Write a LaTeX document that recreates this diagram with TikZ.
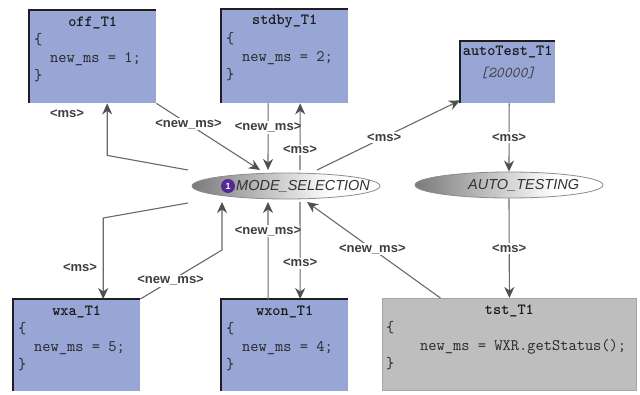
\documentclass[tikz,border=0pt]{standalone}
\usepackage{fontspec}
\setmainfont{Liberation Sans}
\usetikzlibrary{arrows.meta,calc,shapes.geometric}

\definecolor{boxblue}{RGB}{151,166,212}
\definecolor{boxgray}{RGB}{190,190,190}
\definecolor{linegray}{RGB}{105,105,105}
\definecolor{tipgray}{RGB}{80,80,80}
\definecolor{labgray}{RGB}{62,62,62}
\definecolor{badgepurple}{RGB}{82,42,150}
\pgfdeclarehorizontalshading{ovalshade}{100bp}{color(0bp)=(black!52); color(25bp)=(black!52); color(45bp)=(black!24); color(62bp)=(white); color(100bp)=(white)}

\begin{document}
\begin{tikzpicture}[x=1pt,y=-1pt,
  statebox/.style={rectangle, inner sep=0pt, anchor=north west, fill=boxblue},
  taskbox/.style={rectangle, inner sep=0pt, anchor=north west, fill=boxgray, draw=black!35, line width=0.8pt},
  edgeline/.style={draw=black!88, line width=2.2pt},
  boxtitle/.style={inner sep=0pt, font=\ttfamily\bfseries\fontsize{15.5}{15.5}\selectfont, text=black!90},
  codetext/.style={inner sep=0pt, anchor=north west, align=left, text=black!85,
    font=\ttfamily\fontsize{16}{18}\selectfont},
  oval/.style={ellipse, minimum width=188pt, minimum height=26pt, inner sep=0pt,
    shading=ovalshade, draw=black!45, line width=0.8pt},
  ovaltext/.style={anchor=west, inner sep=0pt, text=black!80,
    font=\itshape\fontsize{14.5}{14.5}\selectfont},
  conn/.style={draw=linegray, line width=1.1pt,
    -{Stealth[length=11pt, width=10pt, inset=3.5pt, color=tipgray]}},
  lab/.style={fill=white, inner sep=1.5pt, text=labgray,
    font=\bfseries\fontsize{13}{13}\selectfont}]

\useasboundingbox (0,0) rectangle (640,394);
\fill[white] (0,0) rectangle (640,394);

% ---- state boxes ----
\node[statebox, minimum width=127pt, minimum height=93pt] (off) at (29,10) {};
\node[statebox, minimum width=127pt, minimum height=94pt] (stdby) at (221,9) {};
\node[statebox, minimum width=95pt, minimum height=62pt] (autot) at (460,41) {};
\node[statebox, minimum width=127pt, minimum height=92pt] (wxa) at (13,299) {};
\node[statebox, minimum width=127pt, minimum height=92pt] (wxon) at (221,299) {};
\node[taskbox, minimum width=254pt, minimum height=92pt] (tst) at (382,298) {};

\foreach \b in {off,stdby,autot,wxa,wxon}
  \draw[edgeline] (\b.south west) -- (\b.north west) -- (\b.north east);

% ---- box contents ----
\node[boxtitle] (offT) at ($(off.north)+(0,12.5)$) {off\_T1};
\node[codetext] (offC) at ($(off.north west)+(5,23)$) {\{\\\hspace*{16pt}new\_ms = 1;\\\}};

\node[boxtitle] (stdbyT) at ($(stdby.north)+(0,12.5)$) {stdby\_T1};
\node[codetext] (stdbyC) at ($(stdby.north west)+(5,23)$) {\{\\\hspace*{16pt}new\_ms = 2;\\\}};

\node[boxtitle] (autotT) at ($(autot.north)+(0,11)$) {autoTest\_T1};
\node[inner sep=0pt, text=black!75, font=\ttfamily\itshape\fontsize{15}{15}\selectfont]
  (autotP) at ($(autot.north)+(0,32)$) {[20000]};

\node[boxtitle] (wxaT) at ($(wxa.north)+(0,12.5)$) {wxa\_T1};
\node[codetext] (wxaC) at ($(wxa.north west)+(5,23)$) {\{\\\hspace*{16pt}new\_ms = 5;\\\}};

\node[boxtitle] (wxonT) at ($(wxon.north)+(0,12.5)$) {wxon\_T1};
\node[codetext] (wxonC) at ($(wxon.north west)+(5,23)$) {\{\\\hspace*{16pt}new\_ms = 4;\\\}};

\node[boxtitle] (tstT) at ($(tst.north)+(0,12.5)$) {tst\_T1};
\node[codetext] (tstC) at ($(tst.north west)+(4,23)$) {\{\\\hspace*{34pt}new\_ms = WXR.getStatus();\\\}};

% ---- mode ovals ----
\node[oval] (ms) at (286,186) {};
\node[circle, fill=badgepurple, minimum size=14pt, inner sep=0pt, text=white,
  font=\bfseries\fontsize{9}{9}\selectfont] (badge) at (228,186) {1};
\node[ovaltext] (msT) at (236,186) {MODE\_SELECTION};

\node[oval] (autotesting) at (509,185) {};
\node[ovaltext] (autotestingT) at (468,185) {AUTO\_TESTING};

% ---- transitions ----
% MODE_SELECTION <-> off_T1
\draw[conn] ($(ms.center)+(-98,-16)$) -- ($(off.south)+(14.5,52)$) -- ($(off.south)+(14.5,0)$);
\node[lab] (l1) at (67,114) {<ms>};
\draw[conn] (off.south east) -- node[lab, pos=0.31] (l2) {<new\_ms>} ($(ms.center)+(-26,-16)$);

% MODE_SELECTION <-> stdby_T1
\draw[conn] ($(stdby.south)+(-16.5,0)$) -- node[lab, pos=0.36] (l3) {<new\_ms>} ($(ms.center)+(-18,-16)$);
\draw[conn] ($(ms.center)+(14,-16)$) -- node[lab, pos=0.3] (l4) {<ms>} ($(stdby.south)+(15.5,0)$);

% MODE_SELECTION -> autoTest_T1 -> AUTO_TESTING -> tst_T1 -> MODE_SELECTION
\draw[conn] ($(ms.center)+(31,-16)$) -- node[lab, pos=0.47] (l5) {<ms>} ($(autot.south west)+(0,-3)$);
\draw[conn] ($(autot.south)+(1.5,0)$) -- node[lab] (l6) {<ms>} (autotesting.north);
\draw[conn] (autotesting.south) -- node[lab] (l7) {<ms>} (tst.north);
\draw[conn] ($(tst.north)+(-69,0)$) -- node[lab, pos=0.51] (l8) {<new\_ms>} ($(ms.center)+(21,16)$);

% MODE_SELECTION <-> wxa_T1
\draw[conn] ($(ms.center)+(-98,17)$) -- ($(wxa.north)+(26.5,-81)$) -- ($(wxa.north)+(26.5,0)$);
\node[lab] (l9) at (80,268) {<ms>};
\draw[conn] (wxa.north east) -- node[lab, pos=0.37] (l10) {<new\_ms>} ($(ms.center)+(-64,64)$) -- ($(ms.center)+(-64,16)$);

% MODE_SELECTION <-> wxon_T1
\draw[conn] ($(wxon.north)+(-16.5,0)$) -- node[lab, pos=0.7] (l11) {<new\_ms>} ($(ms.center)+(-18,16)$);
\draw[conn] ($(ms.center)+(14,16)$) -- node[lab, pos=0.63] (l12) {<ms>} ($(wxon.north)+(15.5,0)$);

\end{tikzpicture}
\end{document}
